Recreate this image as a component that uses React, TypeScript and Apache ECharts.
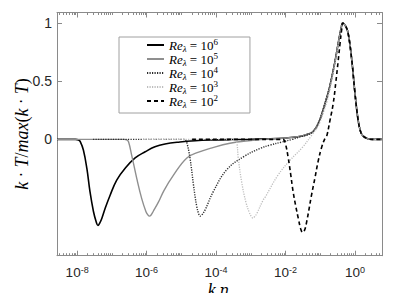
import React, { useEffect, useRef } from "react";
import * as echarts from "echarts";

// Re_lambda exponents (legend order)
const reExponents = [6, 5, 4, 3, 2];

// log10(k*eta) positions and normalised k*T values
const logK_Re6 = [-8.58, -8.2, -8.05, -7.96, -7.91, -7.82, -7.72, -7.63, -7.53, -7.45, -7.4, -7.35, -7.29, -7.19, -7.05, -6.86, -6.62, -6.33, -6.04, -5.76, -5.47, -5.04, -4.6, -4.17, -3.6, -3.0, -2.5, -2.0, -1.6, -1.4, -1.21, -1.05, -0.92, -0.8, -0.72, -0.58, -0.46, -0.4, -0.35, -0.28, -0.2, -0.09, 0.0, 0.09, 0.16, 0.23, 0.37, 0.5, 0.78];
const val_Re6 = [0, 0, 0, -0.005, -0.02, -0.092, -0.25, -0.45, -0.62, -0.71, -0.74, -0.72, -0.68, -0.59, -0.48, -0.35, -0.25, -0.16, -0.107, -0.064, -0.04, -0.023, -0.012, -0.006, -0.002, 0.0, 0.004, 0.012, 0.025, 0.04, 0.065, 0.14, 0.25, 0.37, 0.46, 0.66, 0.86, 0.95, 1.0, 0.98, 0.92, 0.68, 0.4, 0.17, 0.07, 0.03, 0.005, 0, 0];

const logK_Re5 = [-8.58, -7.0, -6.65, -6.57, -6.52, -6.43, -6.28, -6.14, -6.02, -5.96, -5.92, -5.87, -5.81, -5.66, -5.5, -5.23, -4.84, -4.5, -4.17, -3.6, -3.0, -2.5, -2.0, -1.6, -1.4, -1.21, -1.05, -0.92, -0.8, -0.72, -0.58, -0.46, -0.4, -0.35, -0.28, -0.2, -0.09, 0.0, 0.09, 0.16, 0.23, 0.37, 0.5, 0.78];
const val_Re5 = [0, 0, 0, -0.005, -0.02, -0.135, -0.34, -0.51, -0.62, -0.65, -0.66, -0.65, -0.62, -0.54, -0.44, -0.31, -0.16, -0.11, -0.078, -0.034, -0.01, 0.003, 0.012, 0.025, 0.04, 0.065, 0.14, 0.25, 0.37, 0.46, 0.66, 0.86, 0.95, 1.0, 0.98, 0.92, 0.68, 0.4, 0.17, 0.07, 0.03, 0.005, 0, 0];

const logK_Re4 = [-7.54, -5.2, -4.95, -4.89, -4.84, -4.75, -4.65, -4.56, -4.5, -4.46, -4.41, -4.32, -4.08, -3.69, -3.21, -2.73, -2.45, -2.1, -1.8, -1.6, -1.4, -1.21, -1.05, -0.92, -0.8, -0.72, -0.58, -0.46, -0.4, -0.35, -0.28, -0.2, -0.09, 0.0, 0.09, 0.16, 0.23, 0.37, 0.5, 0.78];
const val_Re4 = [0, 0, 0, -0.005, -0.03, -0.16, -0.39, -0.57, -0.64, -0.66, -0.65, -0.61, -0.45, -0.26, -0.15, -0.078, -0.05, -0.023, 0.0, 0.02, 0.035, 0.065, 0.14, 0.25, 0.37, 0.46, 0.66, 0.86, 0.95, 1.0, 0.98, 0.92, 0.68, 0.4, 0.17, 0.07, 0.03, 0.005, 0, 0];

const logK_Re3 = [-6.1, -3.6, -3.45, -3.4, -3.36, -3.26, -3.14, -3.04, -2.98, -2.94, -2.89, -2.83, -2.64, -2.59, -2.22, -1.87, -1.53, -1.24, -1.05, -0.92, -0.8, -0.72, -0.58, -0.46, -0.4, -0.35, -0.28, -0.2, -0.09, 0.0, 0.09, 0.16, 0.23, 0.37, 0.5, 0.78];
const val_Re3 = [0, 0, 0, -0.03, -0.16, -0.37, -0.54, -0.63, -0.665, -0.676, -0.665, -0.64, -0.52, -0.5, -0.31, -0.18, -0.075, 0.037, 0.12, 0.22, 0.33, 0.43, 0.64, 0.85, 0.94, 1.0, 0.98, 0.92, 0.68, 0.4, 0.17, 0.07, 0.03, 0.005, 0, 0];

const logK_Re2 = [-4.69, -2.2, -2.07, -2.0, -1.92, -1.85, -1.78, -1.7, -1.63, -1.56, -1.505, -1.45, -1.39, -1.25, -1.15, -1.06, -0.96, -0.86, -0.816, -0.72, -0.624, -0.55, -0.48, -0.43, -0.383, -0.35, -0.28, -0.2, -0.09, 0.0, 0.09, 0.16, 0.23, 0.37, 0.5, 0.78];
const val_Re2 = [0, 0, 0, -0.04, -0.16, -0.3, -0.45, -0.58, -0.68, -0.77, -0.8, -0.78, -0.71, -0.48, -0.33, -0.19, -0.07, 0.01, 0.023, 0.16, 0.31, 0.49, 0.68, 0.82, 0.94, 1.0, 0.98, 0.92, 0.68, 0.4, 0.17, 0.07, 0.03, 0.005, 0, 0];

const curveLogK = [logK_Re6, logK_Re5, logK_Re4, logK_Re3, logK_Re2];
const curveVals = [val_Re6, val_Re5, val_Re4, val_Re3, val_Re2];

// axis ticks
const xMajorTicks = [1e-8, 1e-6, 1e-4, 1e-2, 1];
const yTicks = [0, 0.5, 1];

const lineStyles = [
  { color: "#000000", width: 1.6, type: "solid" },
  { color: "#8f8f8f", width: 1.4, type: "solid" },
  { color: "#2b2b2b", width: 1.4, type: [1.2, 1.3] },
  { color: "#bdbdbd", width: 1.3, type: [1.2, 1.3] },
  { color: "#000000", width: 1.6, type: [4, 3] },
];

const serif = "Liberation Serif";
const sans = "Liberation Sans";
const axisColor = "#8a8a8a";

export default function App() {
  const ref = useRef<HTMLDivElement>(null);
  useEffect(() => {
    if (!ref.current) return;
    const chart = echarts.init(ref.current, undefined, { renderer: "svg" });

    const minorTicks: number[] = [];
    for (let n = -9; n <= 0; n++) {
      for (let m = 1; m <= 9; m++) {
        const v = m * Math.pow(10, n);
        const isMajor = m === 1 && n % 2 === 0;
        if (!isMajor && v > 2.6e-9 && v < 6) minorTicks.push(v);
      }
    }

    const xMin = Math.pow(10, -8.58);
    const xMax = Math.pow(10, 0.78);

    const tickRich = {
      b: { fontFamily: sans, fontSize: 13.5, color: "#262626", lineHeight: 14 },
      s: { fontFamily: sans, fontSize: 9, color: "#262626", lineHeight: 7, verticalAlign: "top" },
    };

    const mathRich = {
      i: { fontFamily: serif, fontStyle: "italic", fontSize: 18, color: "#000", lineHeight: 16 },
      g: { fontFamily: "DejaVu Serif", fontStyle: "italic", fontSize: 15, color: "#000", lineHeight: 16 },
      d: { fontFamily: "DejaVu Sans", fontSize: 15, color: "#000", lineHeight: 16 },
      n: { fontFamily: serif, fontSize: 18, color: "#000", lineHeight: 16 },
    };

    const baseX = {
      type: "log",
      logBase: 10,
      min: xMin,
      max: xMax,
      gridIndex: 0,
      splitLine: { show: false },
      minorTick: { show: false },
      minorSplitLine: { show: false },
    };

    const xAxes = [
      {
        ...baseX,
        position: "bottom",
        axisLine: { show: true, onZero: false, lineStyle: { color: axisColor, width: 1 } },
        axisTick: { show: true, inside: true, length: 5, customValues: xMajorTicks, lineStyle: { color: axisColor } },
        axisLabel: {
          show: true,
          customValues: xMajorTicks,
          margin: 10,
          formatter: (v: number) => `{b|10}{s|${Math.round(Math.log10(v))}}`,
          rich: tickRich,
        },
      },
      {
        ...baseX,
        position: "top",
        axisLine: { show: true, onZero: false, lineStyle: { color: axisColor, width: 1 } },
        axisTick: { show: true, inside: true, length: 5, customValues: xMajorTicks, lineStyle: { color: axisColor } },
        axisLabel: { show: false },
      },
      {
        ...baseX,
        position: "bottom",
        axisLine: { show: false, onZero: false },
        axisTick: { show: true, inside: true, length: 2.5, customValues: minorTicks, lineStyle: { color: axisColor } },
        axisLabel: { show: false },
      },
      {
        ...baseX,
        position: "top",
        axisLine: { show: false, onZero: false },
        axisTick: { show: true, inside: true, length: 2.5, customValues: minorTicks, lineStyle: { color: axisColor } },
        axisLabel: { show: false },
      },
    ];

    const baseY = {
      type: "value",
      min: -1,
      max: 1.09,
      interval: 0.5,
      gridIndex: 0,
      splitLine: { show: false },
    };

    const yAxes = [
      {
        ...baseY,
        position: "left",
        axisLine: { show: true, onZero: false, lineStyle: { color: axisColor, width: 1 } },
        axisTick: { show: true, inside: true, length: 5, customValues: yTicks, lineStyle: { color: axisColor } },
        axisLabel: {
          show: true,
          margin: 5,
          fontFamily: sans,
          fontSize: 14,
          color: "#262626",
          showMinLabel: true,
          showMaxLabel: false,
          formatter: (v: number) => (yTicks.some((t) => Math.abs(t - v) < 1e-9) ? String(v) : ""),
        },
      },
      {
        ...baseY,
        position: "right",
        axisLine: { show: true, onZero: false, lineStyle: { color: axisColor, width: 1 } },
        axisTick: { show: true, inside: true, length: 5, customValues: yTicks, lineStyle: { color: axisColor } },
        axisLabel: { show: false },
      },
    ];

    const names = reExponents.map((e) => `Re_λ = 10^${e}`);

    const series = reExponents.map((e, i) => ({
      name: names[i],
      type: "line",
      xAxisIndex: 0,
      yAxisIndex: 0,
      showSymbol: false,
      symbol: "none",
      smooth: 0.4,
      lineStyle: lineStyles[i],
      itemStyle: { color: lineStyles[i].color },
      data: curveLogK[i].map((lk, j) => [Math.pow(10, lk), curveVals[i][j]]),
      z: 2 + i,
    }));

    chart.setOption({
      animation: false,
      backgroundColor: "#fff",
      grid: { left: 57, right: 17, top: 12.5, bottom: 45.3, containLabel: false },
      xAxis: xAxes,
      yAxis: yAxes,
      graphic: [
        {
          type: "text",
          x: 22,
          y: 134,
          rotation: Math.PI / 2,
          style: {
            text: "{i|k}{d| · }{i|T}{n|/}{i|max}{n|(}{i|k}{d| · }{i|T}{n|)}",
            rich: mathRich,
            align: "center",
            verticalAlign: "middle",
          },
        },
        {
          type: "text",
          x: 218,
          y: 290,
          style: {
            text: "{i|k} {g|η}",
            rich: mathRich,
            align: "center",
            verticalAlign: "middle",
          },
        },
      ],
      legend: {
        data: names,
        orient: "vertical",
        left: 119,
        top: 37,
        itemWidth: 17,
        itemHeight: 10,
        itemGap: -2,
        padding: [0, 32, 4, 27],
        borderColor: "#a0a0a0",
        borderWidth: 1,
        borderRadius: 0,
        backgroundColor: "#ffffff",
        selectedMode: false,
        itemStyle: { opacity: 0 },
        formatter: (name: string) => `{it|Re}{sub|λ}{n| = 10}{sup|${name.split("^")[1]}}`,
        textStyle: {
          fontFamily: serif,
          fontSize: 13,
          color: "#000",
          rich: {
            it: { fontFamily: serif, fontStyle: "italic", fontSize: 13, lineHeight: 16, color: "#000" },
            sub: { fontFamily: serif, fontStyle: "italic", fontSize: 9, lineHeight: 8, verticalAlign: "bottom", color: "#000" },
            n: { fontFamily: serif, fontSize: 13, lineHeight: 16, color: "#000" },
            sup: { fontFamily: serif, fontSize: 9, lineHeight: 8, verticalAlign: "top", color: "#000" },
          },
        },
      },
      series,
    });

    return () => chart.dispose();
  }, []);

  return <div ref={ref} style={{ width: 399, height: 301, margin: -8 }} />;
}
